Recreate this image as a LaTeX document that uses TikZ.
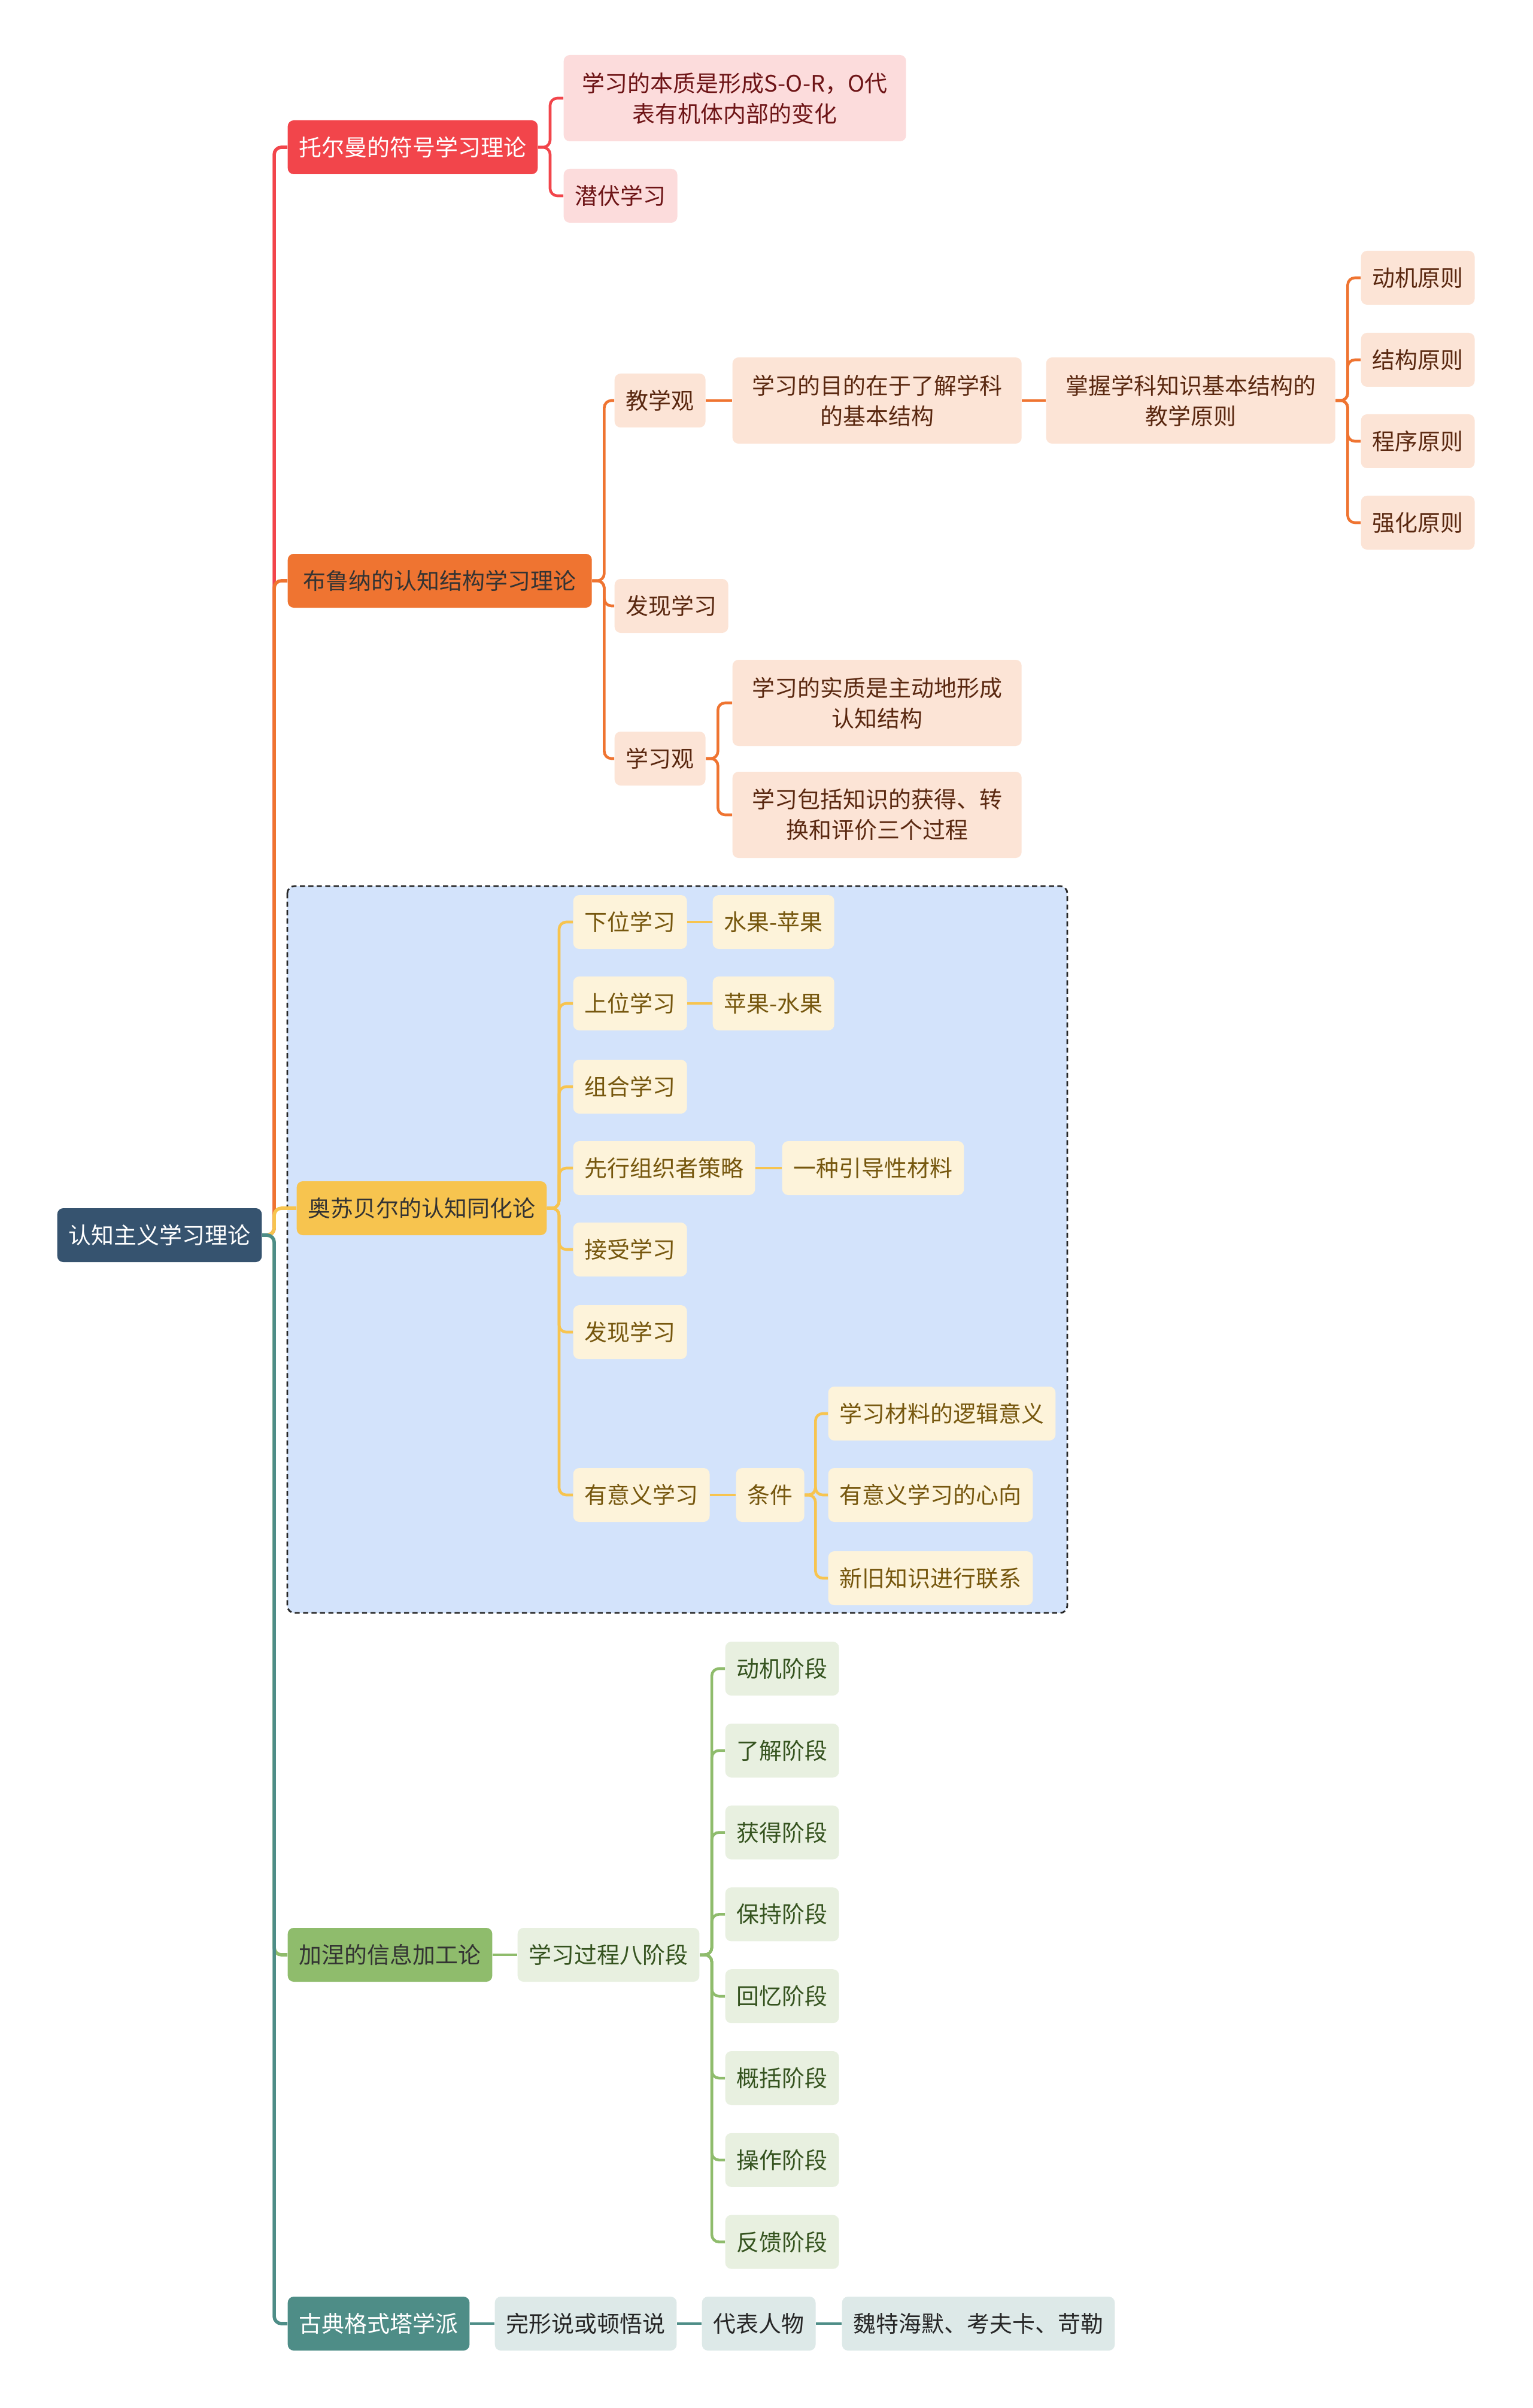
\documentclass[tikz,border=0pt]{standalone}
\usepackage{fontspec}
\setmainfont{Noto Sans CJK SC}
\definecolor{cRoot}{HTML}{36536F}
\definecolor{cRed}{HTML}{F2454B}
\definecolor{cOrg}{HTML}{EF7431}
\definecolor{cYel}{HTML}{F7C44F}
\definecolor{cGrn}{HTML}{8FBC6C}
\definecolor{cTeal}{HTML}{4E8D87}
\definecolor{fRed}{HTML}{FCDCDC}
\definecolor{fOrg}{HTML}{FCE4D6}
\definecolor{fYel}{HTML}{FDF3DA}
\definecolor{fGrn}{HTML}{E8F0E0}
\definecolor{fTeal}{HTML}{DDE9E8}
\definecolor{tRed}{HTML}{6E1517}
\definecolor{tOrg}{HTML}{5A2810}
\definecolor{tYel}{HTML}{76570E}
\definecolor{tGrn}{HTML}{35531F}
\definecolor{boxblue}{HTML}{D3E3FB}
\tikzset{
  mm/.style={rounded corners=0.1cm, minimum height=0.9cm, inner xsep=0.19cm,
    inner ysep=0pt, anchor=west, align=center,
    font=\fontsize{10.8pt}{14.5pt}\selectfont},
  tworow/.style={minimum height=1.44cm, minimum width=4.83cm},
  rootbox/.style={mm, fill=cRoot, text=white},
  topic/.style={mm, text=black!80},
  redsub/.style={mm, fill=fRed, text=tRed},
  orgsub/.style={mm, fill=fOrg, text=tOrg},
  yelsub/.style={mm, fill=fYel, text=tYel},
  grnsub/.style={mm, fill=fGrn, text=tGrn},
  tealsub/.style={mm, fill=fTeal, text=black!85},
  link/.style={line width=1.3pt, rounded corners=0.12cm},
  frame/.style={draw=black!85, fill=boxblue, line width=0.8pt,
    dash pattern=on 2.4pt off 1.6pt, rounded corners=0.12cm}
}
\begin{document}
\begin{tikzpicture}[y=-1cm]
\useasboundingbox[fill=white] (0,0) rectangle (25.6,40.22);
% dashed frame round the Ausubel branch
\draw[frame] (4.80,14.80) rectangle (17.83,26.94);

% root and main topics
\node[rootbox] (root) at (0.95,20.63) {认知主义学习理论};
\node[topic, fill=cRed, text=white] (tol) at (4.80,2.46) {托尔曼的符号学习理论};
\node[topic, fill=cOrg, minimum width=5.08cm] (bru) at (4.80,9.70) {布鲁纳的认知结构学习理论};
\node[topic, fill=cYel] (aus) at (4.95,20.18) {奥苏贝尔的认知同化论};
\node[topic, fill=cGrn] (gag) at (4.80,32.65) {加涅的信息加工论};
\node[topic, fill=cTeal, text=white] (gst) at (4.80,38.81) {古典格式塔学派};

% Tolman
\node[redsub, tworow, minimum width=5.72cm] (tol1) at (9.41,1.64) {学习的本质是形成S-O-R，O代\\表有机体内部的变化};
\node[redsub] (tol2) at (9.41,3.27) {潜伏学习};

% Bruner
\node[orgsub] (bru1) at (10.26,6.69) {教学观};
\node[orgsub, tworow] (bru11) at (12.23,6.69) {学习的目的在于了解学科\\的基本结构};
\node[orgsub, tworow] (bru12) at (17.47,6.69) {掌握学科知识基本结构的\\教学原则};
\node[orgsub] (pr1) at (22.73,4.64) {动机原则};
\node[orgsub] (pr2) at (22.73,6.01) {结构原则};
\node[orgsub] (pr3) at (22.73,7.37) {程序原则};
\node[orgsub] (pr4) at (22.73,8.73) {强化原则};
\node[orgsub] (bru2) at (10.26,10.12) {发现学习};
\node[orgsub] (bru3) at (10.26,12.67) {学习观};
\node[orgsub, tworow] (bru31) at (12.23,11.74) {学习的实质是主动地形成\\认知结构};
\node[orgsub, tworow] (bru32) at (12.23,13.61) {学习包括知识的获得、转\\换和评价三个过程};

% Ausubel
\node[yelsub] (aus1) at (9.57,15.40) {下位学习};
\node[yelsub] (aus11) at (11.90,15.40) {水果-苹果};
\node[yelsub] (aus2) at (9.57,16.76) {上位学习};
\node[yelsub] (aus21) at (11.90,16.76) {苹果-水果};
\node[yelsub] (aus3) at (9.57,18.15) {组合学习};
\node[yelsub] (aus4) at (9.57,19.51) {先行组织者策略};
\node[yelsub] (aus41) at (13.06,19.51) {一种引导性材料};
\node[yelsub] (aus5) at (9.57,20.87) {接受学习};
\node[yelsub] (aus6) at (9.57,22.25) {发现学习};
\node[yelsub] (aus7) at (9.57,24.97) {有意义学习};
\node[yelsub] (cond) at (12.29,24.97) {条件};
\node[yelsub] (cond1) at (13.83,23.61) {学习材料的逻辑意义};
\node[yelsub] (cond2) at (13.83,24.97) {有意义学习的心向};
\node[yelsub] (cond3) at (13.83,26.36) {新旧知识进行联系};

% Gagne
\node[grnsub] (gag1) at (8.64,32.65) {学习过程八阶段};
\foreach \t [count=\i] in {动机,了解,获得,保持,回忆,概括,操作,反馈}
  \node[grnsub] (st\i) at (12.11,{27.87+1.368*(\i-1)}) {\t 阶段};

% Gestalt
\node[tealsub] (gst1) at (8.26,38.81) {完形说或顿悟说};
\node[tealsub] (gst2) at (11.72,38.81) {代表人物};
\node[tealsub] (gst3) at (14.06,38.81) {魏特海默、考夫卡、苛勒};

% connectors
\foreach \c/\col in {tol/cRed,bru/cOrg,aus/cYel,gag/cGrn,gst/cTeal}
  \draw[link, line width=1.6pt, \col] (root.east) -- ++(0.2,0) |- (\c.west);
\foreach \c in {tol1,tol2}
  \draw[link, cRed] (tol.east) -- ++(0.2,0) |- (\c.west);
\foreach \c in {bru1,bru2,bru3}
  \draw[link, cOrg] (bru.east) -- ++(0.2,0) |- (\c.west);
\draw[link, cOrg] (bru1) -- (bru11);
\draw[link, cOrg] (bru11) -- (bru12);
\foreach \c in {pr1,pr2,pr3,pr4}
  \draw[link, cOrg] (bru12.east) -- ++(0.2,0) |- (\c.west);
\foreach \c in {bru31,bru32}
  \draw[link, cOrg] (bru3.east) -- ++(0.2,0) |- (\c.west);
\foreach \c in {aus1,aus2,aus3,aus4,aus5,aus6,aus7}
  \draw[link, cYel] (aus.east) -- ++(0.2,0) |- (\c.west);
\draw[link, cYel] (aus1) -- (aus11);
\draw[link, cYel] (aus2) -- (aus21);
\draw[link, cYel] (aus4) -- (aus41);
\draw[link, cYel] (aus7) -- (cond);
\foreach \c in {cond1,cond2,cond3}
  \draw[link, cYel] (cond.east) -- ++(0.18,0) |- (\c.west);
\draw[link, cGrn] (gag) -- (gag1);
\foreach \i in {1,...,8}
  \draw[link, cGrn] (gag1.east) -- ++(0.2,0) |- (st\i.west);
\draw[link, cTeal] (gst) -- (gst1);
\draw[link, cTeal] (gst1) -- (gst2);
\draw[link, cTeal] (gst2) -- (gst3);
\end{tikzpicture}
\end{document}
